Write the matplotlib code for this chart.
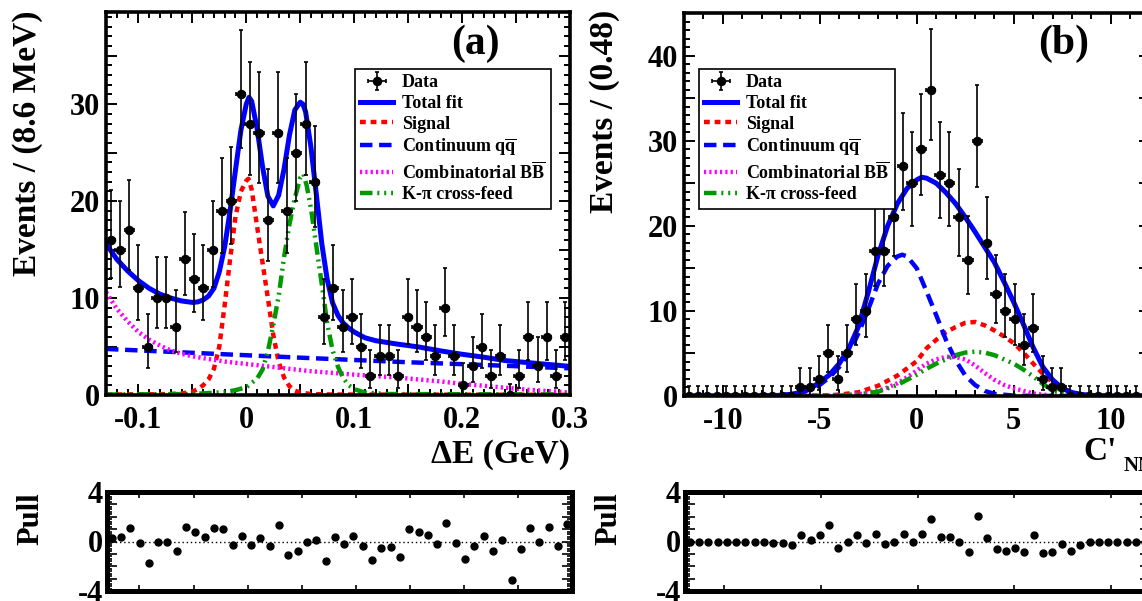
import numpy as np
import matplotlib
matplotlib.use("Agg")
import matplotlib.pyplot as plt
from matplotlib.ticker import MultipleLocator, FuncFormatter, NullFormatter

plt.rcParams['font.family'] = 'Liberation Serif'
plt.rcParams['font.weight'] = 'bold'
plt.rcParams['mathtext.fontset'] = 'custom'
plt.rcParams['mathtext.rm'] = 'Liberation Serif:bold'
plt.rcParams['mathtext.it'] = 'Liberation Serif:bold'
plt.rcParams['mathtext.bf'] = 'Liberation Serif:bold'
plt.rcParams['axes.unicode_minus'] = False

# ---------------- panel (a): Delta E ----------------
de_range = (-0.13, 0.30)
de_nbins = 50
de_counts = [16, 15, 17, 11, 5, 10, 10, 7, 14, 12, 11, 15, 19, 20, 31, 28,
             27, 18, 27, 19, 25, 28, 22, 8, 11, 7, 8, 5, 2, 4, 4, 2, 8,
             7, 6, 4, 9, 4, 1, 3, 5, 2, 4, 0, 2, 6, 3, 6, 2, 6]
de_pull = [0.32, 0.35, 1.08, -0.13, -1.75, -0.08, 0.0, -0.73, 1.21, 0.73,
           0.35, 1.08, 1.02, -0.27, 0.46, -0.32, 0.27, -0.40, 1.35, -1.10,
           -0.75, -0.03, 0.13, -1.54, 0.40, -0.19, 0.46, -0.40, -1.50, -0.51,
           -0.46, -1.27, 1.02, 0.75, 0.49, -0.22, 1.48, -0.13, -1.43, -0.40,
           0.46, -0.73, 0.11, -3.15, -0.57, 1.08, -0.08, 1.19, -0.40, 1.40]

de_total_x = [-0.13, -0.12, -0.11, -0.10, -0.09, -0.08, -0.07, -0.06, -0.05, -0.045,
              -0.04, -0.035, -0.03, -0.025, -0.02, -0.015, -0.01, -0.005, 0.0, 0.0025,
              0.005, 0.01, 0.015, 0.02, 0.025, 0.03, 0.035, 0.04, 0.045, 0.05,
              0.0525, 0.055, 0.06, 0.065, 0.07, 0.075, 0.08, 0.085, 0.09, 0.095,
              0.10, 0.11, 0.12, 0.14, 0.16, 0.18, 0.20, 0.22, 0.24, 0.26, 0.28, 0.30]
de_total_y = [15.6, 14.0, 12.8, 11.8, 11.0, 10.4, 10.0, 9.7, 9.55, 9.6,
              9.8, 10.2, 11.0, 12.7, 15.3, 19.0, 23.2, 27.3, 30.0, 30.7,
              30.3, 27.5, 23.6, 20.5, 19.5, 20.6, 23.3, 26.8, 29.4, 30.2,
              30.0, 29.2, 25.5, 20.6, 15.6, 11.9, 9.5, 8.2, 7.4, 6.9,
              6.5, 5.9, 5.6, 5.25, 4.95, 4.55, 4.2, 3.9, 3.55, 3.35, 3.15, 2.95]
de_sig_x = [-0.13, -0.08, -0.06, -0.05, -0.045, -0.04, -0.035, -0.03, -0.025, -0.02,
            -0.015, -0.01, -0.005, 0.0, 0.002, 0.005, 0.01, 0.015, 0.02, 0.025,
            0.03, 0.035, 0.04, 0.045, 0.05, 0.06, 0.08, 0.30]
de_sig_y = [0.05, 0.08, 0.15, 0.35, 0.6, 1.0, 1.6, 2.7, 5.0, 9.3,
            14.0, 18.4, 21.0, 22.1, 22.3, 21.2, 17.4, 13.7, 10.0, 6.2,
            3.4, 1.8, 0.9, 0.45, 0.25, 0.1, 0.05, 0.02]
de_cont_x = [-0.13, -0.05, 0.0, 0.05, 0.145, 0.22, 0.30]
de_cont_y = [4.75, 4.35, 4.1, 3.85, 3.4, 3.1, 2.75]
de_bb_x = [-0.13, -0.12, -0.11, -0.10, -0.09, -0.08, -0.07, -0.06, -0.05, -0.04,
           -0.02, 0.0, 0.02, 0.04, 0.06, 0.08, 0.10, 0.12, 0.14, 0.16,
           0.18, 0.20, 0.22, 0.24, 0.26, 0.28, 0.30]
de_bb_y = [10.6, 8.9, 7.6, 6.5, 5.7, 5.1, 4.6, 4.25, 4.0, 3.8,
           3.45, 3.2, 2.95, 2.7, 2.45, 2.28, 2.1, 1.95, 1.8, 1.6,
           1.4, 1.15, 0.95, 0.75, 0.55, 0.4, 0.25]
de_kpi_x = [-0.13, -0.05, -0.02, -0.01, 0.0, 0.01, 0.015, 0.02, 0.025, 0.03,
            0.035, 0.04, 0.045, 0.05, 0.053, 0.056, 0.06, 0.065, 0.07, 0.075,
            0.08, 0.085, 0.09, 0.095, 0.10, 0.11, 0.13, 0.30]
de_kpi_y = [0.05, 0.1, 0.3, 0.5, 0.8, 1.7, 2.6, 4.5, 7.2, 10.2,
            14.2, 17.6, 20.3, 22.4, 22.8, 21.6, 19.2, 15.3, 11.4, 7.4,
            4.6, 2.9, 1.7, 1.0, 0.6, 0.25, 0.1, 0.05]

# ---------------- panel (b): C'_NN ----------------
nn_range = (-12.0, 12.0)
nn_nbins = 50
nn_counts = [0, 0, 0, 0, 0, 0, 0, 0, 0, 0, 0, 0, 1, 1, 2, 5, 2, 5, 9, 10,
             17, 17, 21, 27, 25, 29, 36, 26, 25, 21, 16, 30, 18, 12, 10, 9, 6, 8,
             2, 1, 1, 0, 0, 0, 0, 0, 0, 0, 0, 0]
nn_pull = [0.0, 0.0, 0.0, 0.0, 0.0, 0.0, 0.0, 0.0, -0.05, -0.1,
           -0.13, -0.27, 0.54, 0.13, 0.54, 1.35, -0.49, 0.0, 0.49, -0.13,
           0.62, -0.19, -0.05, 0.62, -0.05, 0.62, 1.81, 0.40, 0.40, -0.08,
           -0.81, 2.10, 0.27, -0.62, -0.73, -0.54, -0.81, 0.49, -0.94, -0.81,
           -0.22, -0.73, -0.32, -0.08, -0.03, -0.03, -0.03, -0.03, -0.03, 0.0]

nn_total_x = [-12, -8, -7, -6.5, -6, -5.5, -5, -4.5, -4, -3.5, -3, -2.5, -2, -1.5, -1,
              -0.5, 0, 0.25, 0.5, 1, 1.5, 2, 2.5, 3, 3.5, 4, 4.5, 5, 5.5, 6,
              6.5, 7, 7.5, 8, 8.5, 9, 10, 12]
nn_total_y = [0, 0.02, 0.08, 0.2, 0.4, 0.9, 1.6, 2.5, 3.8, 5.6, 8.2, 12.2, 16.5, 20.0, 22.6,
              24.4, 25.4, 25.7, 25.6, 25.0, 23.9, 22.6, 21.0, 19.3, 17.5, 15.7, 13.4, 11.0, 8.4, 5.7,
              3.4, 1.9, 0.9, 0.4, 0.18, 0.07, 0.01, 0]
nn_sig_x = [-12, -5, -4, -3, -2, -1, 0, 0.5, 1, 1.5, 2, 2.5, 3, 3.5, 4, 4.5, 5, 5.5,
            6, 6.5, 7, 7.5, 8, 8.5, 9, 12]
nn_sig_y = [0, 0.05, 0.15, 0.45, 1.2, 2.4, 4.1, 5.6, 6.6, 7.5, 8.1, 8.6, 8.7, 8.3, 7.7, 7.0, 6.2, 5.1,
            3.8, 2.6, 1.6, 0.9, 0.4, 0.15, 0.05, 0]
nn_cont_x = [-12, -8, -7, -6, -5, -4.5, -4, -3.5, -3, -2.5, -2, -1.5, -1, -0.75, -0.5,
             0, 0.5, 1, 1.5, 2, 2.5, 3, 3.5, 4, 5, 6, 12]
nn_cont_y = [0, 0.02, 0.08, 0.3, 1.3, 2.2, 3.4, 5.0, 7.4, 10.2, 13.2, 15.3, 16.4, 16.6, 16.4,
             15.0, 12.3, 9.5, 6.6, 4.2, 2.4, 1.3, 0.6, 0.25, 0.05, 0.01, 0]
nn_bb_x = [-12, -5, -4, -3, -2, -1.5, -1, -0.5, 0, 0.5, 1, 1.5, 2, 2.5, 3, 3.5, 4, 4.5,
           5, 5.5, 6, 6.5, 7, 12]
nn_bb_y = [0, 0.02, 0.05, 0.2, 0.6, 1.0, 1.5, 2.2, 3.0, 3.8, 4.3, 4.6, 4.6, 4.3, 3.6, 2.7, 1.9, 1.3,
           0.9, 0.6, 0.3, 0.15, 0.05, 0]
nn_kpi_x = [-12, -5, -4, -3, -2, -1, 0, 0.5, 1, 1.5, 2, 2.5, 3, 3.5, 4, 4.5, 5, 5.5,
            6, 6.5, 7, 7.5, 8, 8.5, 12]
nn_kpi_y = [0, 0.02, 0.05, 0.2, 0.5, 1.3, 2.5, 3.2, 3.8, 4.3, 4.8, 5.1, 5.2, 5.1, 4.8, 4.3, 3.8, 3.1,
            2.3, 1.4, 0.7, 0.3, 0.1, 0.02, 0]

legend_labels = ["Data", "Total fit", "Signal", r"Continuum $\mathrm{q\overline{q}}$",
                 r"Combinatorial $\mathrm{B\overline{B}}$", "K-\u03c0 cross-feed"]

BLUE, RED, MAG, GREEN = '#0000ff', '#ff0000', '#ff00ff', '#009900'

W, H = 1142, 601
fig = plt.figure(figsize=(W / 100, H / 100), dpi=100)


def px(l, t, r, b):
    return [l / W, 1 - b / H, (r - l) / W, (b - t) / H]


def poisson_err(n):
    n = np.asarray(n, dtype=float)
    lo = np.where(n > 0, np.sqrt(np.clip(n - 0.25, 0, None)), 0.0)
    hi = np.where(n > 0, np.sqrt(n + 0.75) + 1.0, 1.148)
    return lo, hi


def every(step):
    def f(v, pos):
        k = v / step
        if abs(k - round(k)) < 1e-6:
            return "%g" % round(v, 6)
        return ""
    return FuncFormatter(f)


def style_main(ax):
    for s in ax.spines.values():
        s.set_linewidth(2.6)
    ax.tick_params(which='both', direction='in', top=True, right=True,
                   labelsize=22, width=1.4)
    ax.tick_params(which='major', length=8)
    ax.tick_params(which='minor', length=4)
    ax.tick_params(axis='x', pad=8)
    ax.tick_params(axis='y', pad=4)


def draw_main(ax, rng, nb, counts, curves, xlim, ylim):
    edges = np.linspace(rng[0], rng[1], nb + 1)
    centers = 0.5 * (edges[:-1] + edges[1:])
    halfw = 0.5 * (edges[1] - edges[0])
    lo, hi = poisson_err(counts)
    (tx, ty), (sx, sy), (cx, cy), (bx, by), (kx, ky) = curves
    h_sig, = ax.plot(sx, sy, color=RED, lw=3.2, dashes=(1.3, 1.1))
    h_cont, = ax.plot(cx, cy, color=BLUE, lw=3.2, dashes=(2.8, 1.5))
    h_bb, = ax.plot(bx, by, color=MAG, lw=3.2, dashes=(0.5, 0.7))
    h_kpi, = ax.plot(kx, ky, color=GREEN, lw=3.2, dashes=(2.8, 1.1, 0.45, 1.1, 0.45, 1.1))
    h_tot, = ax.plot(tx, ty, color=BLUE, lw=3.6)
    h_dat = ax.errorbar(centers, counts, yerr=[lo, hi], xerr=halfw, fmt='o',
                        color='black', ms=5.8, elinewidth=1.2, capsize=1.5,
                        capthick=1.2, zorder=5)
    ax.set_xlim(*xlim)
    ax.set_ylim(*ylim)
    style_main(ax)
    return [h_dat, h_tot, h_sig, h_cont, h_bb, h_kpi]


def draw_pull(ax, rng, nb, pulls, xmajor):
    edges = np.linspace(rng[0], rng[1], nb + 1)
    centers = 0.5 * (edges[:-1] + edges[1:])
    ax.axhline(0, color='black', lw=1.0, ls=(0, (1, 2)))
    ax.plot(centers, pulls, 'o', color='black', ms=5.0, zorder=5)
    ax.set_xlim(*rng)
    ax.set_ylim(-4, 4)
    for s in ax.spines.values():
        s.set_linewidth(3.6)
    ax.xaxis.set_major_locator(MultipleLocator(xmajor))
    ax.xaxis.set_major_formatter(NullFormatter())
    ax.yaxis.set_major_locator(MultipleLocator(1))
    ax.yaxis.set_minor_locator(MultipleLocator(0.2))
    ax.yaxis.set_major_formatter(every(4))
    ax.tick_params(which='both', direction='in', top=True, right=True,
                   labelsize=22, width=1.2, pad=3)
    ax.tick_params(axis='x', which='major', length=4)
    ax.tick_params(axis='y', which='major', length=7)
    ax.tick_params(axis='y', which='minor', length=3.5)


def add_legend(ax, handles, left, top):
    leg = ax.legend(handles, legend_labels, loc='upper left',
                    bbox_to_anchor=(left / W, 1 - top / H),
                    bbox_transform=fig.transFigure, fontsize=13, frameon=True,
                    fancybox=False, edgecolor='black', framealpha=1, borderpad=0.3,
                    labelspacing=0.2, handlelength=1.8, handletextpad=0.5,
                    borderaxespad=0)
    leg.get_frame().set_linewidth(1.2)
    return leg


# ---- panel (a) ----
ax1 = fig.add_axes(px(106, 12, 570, 395))
hs = draw_main(ax1, de_range, de_nbins, de_counts,
               [(de_total_x, de_total_y), (de_sig_x, de_sig_y), (de_cont_x, de_cont_y),
                (de_bb_x, de_bb_y), (de_kpi_x, de_kpi_y)],
               de_range, (0, 39.5))
ax1.xaxis.set_major_locator(MultipleLocator(0.05))
ax1.xaxis.set_minor_locator(MultipleLocator(0.01))
ax1.xaxis.set_major_formatter(every(0.1))
ax1.yaxis.set_major_locator(MultipleLocator(5))
ax1.yaxis.set_minor_locator(MultipleLocator(1))
ax1.yaxis.set_major_formatter(every(10))
add_legend(ax1, hs, 355, 69)
fig.text(475 / W, 1 - 44 / H, "(a)", ha='center', va='center', fontsize=30)

# ---- panel (b) ----
ax2 = fig.add_axes(px(684, 13, 1149.6, 396))
hs2 = draw_main(ax2, nn_range, nn_nbins, nn_counts,
                [(nn_total_x, nn_total_y), (nn_sig_x, nn_sig_y), (nn_cont_x, nn_cont_y),
                 (nn_bb_x, nn_bb_y), (nn_kpi_x, nn_kpi_y)],
                nn_range, (0, 45))
ax2.xaxis.set_major_locator(MultipleLocator(5))
ax2.xaxis.set_minor_locator(MultipleLocator(1))
ax2.yaxis.set_major_locator(MultipleLocator(5))
ax2.yaxis.set_minor_locator(MultipleLocator(1))
ax2.yaxis.set_major_formatter(every(10))
add_legend(ax2, hs2, 699, 69)
fig.text(1064 / W, 1 - 44 / H, "(b)", ha='center', va='center', fontsize=30)

# axis titles
fig.text(28 / W, 1 - 10 / H, "Events / (8.6 MeV)", rotation=90, ha='center', va='top', fontsize=24)
fig.text(605 / W, 1 - 10 / H, "Events / (0.48)", rotation=90, ha='center', va='top', fontsize=24)
fig.text(570 / W, 1 - 455 / H, "\u0394E (GeV)", ha='right', va='center', fontsize=24)
fig.text(1083 / W, 1 - 452 / H, "C'", ha='left', va='center', fontsize=24)
fig.text(1124 / W, 1 - 466 / H, "NN", ha='left', va='center', fontsize=15)

# ---- pulls ----
axp1 = fig.add_axes(px(107, 492, 572, 591))
draw_pull(axp1, de_range, de_nbins, de_pull, 0.05)
axp2 = fig.add_axes(px(685, 492, 1150, 591))
draw_pull(axp2, nn_range, nn_nbins, nn_pull, 5)
fig.text(31 / W, 1 - 492 / H, "Pull", rotation=90, ha='center', va='top', fontsize=22)
fig.text(609 / W, 1 - 492 / H, "Pull", rotation=90, ha='center', va='top', fontsize=22)

fig.savefig("out.png", dpi=100)
